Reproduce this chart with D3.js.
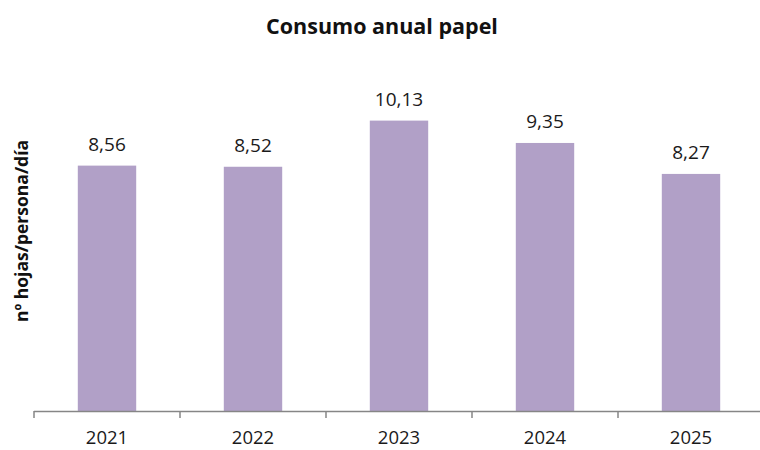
<!DOCTYPE html>
<html>
<head>
<meta charset="utf-8">
<script src="https://cdn.jsdelivr.net/npm/d3@7"></script>
<style>
    body { margin: 0; background: #fff; }
    svg { font-family: 'Open Sans', sans-serif; }
</style>
</head>
<body>
<div id="chart"></div>
<script>
const years = ['2021', '2022', '2023', '2024', '2025'];
const consumo = [8.56, 8.52, 10.13, 9.35, 8.27];
const labels = ['8,56', '8,52', '10,13', '9,35', '8,27'];

const width = 760;
const height = 450;
const margin = {top: 67, right: -4, bottom: 39, left: 34};

const svg = d3.select('#chart')
    .append('svg')
    .attr('width', width)
    .attr('height', height);

const x = d3.scaleBand()
    .domain(years)
    .range([margin.left, width - margin.right])
    .paddingInner(0.6)
    .paddingOuter(0.3);

const y = d3.scaleLinear()
    .domain([0, 12])
    .range([height - margin.bottom, margin.top]);

const data = years.map((d, i) => ({year: d, value: consumo[i], label: labels[i]}));

svg.append('text')
    .attr('x', 382)
    .attr('y', 34)
    .attr('text-anchor', 'middle')
    .style('font-size', '21.5px')
    .style('font-weight', 700)
    .style('fill', '#111')
    .text('Consumo anual papel');

svg.append('text')
    .attr('transform', 'translate(28,' + 231 + ') rotate(-90)')
    .attr('text-anchor', 'middle')
    .style('font-size', '17.5px')
    .style('font-weight', 700)
    .style('fill', '#111')
    .text('nº hojas/persona/día');

svg.selectAll('.bar')
    .data(data)
    .enter()
    .append('rect')
        .classed('bar', true)
        .attr('x', d => x(d.year))
        .attr('y', d => y(d.value))
        .attr('width', x.bandwidth())
        .attr('height', d => y(0) - y(d.value))
        .attr('fill', '#b1a0c7');

svg.selectAll('.label')
    .data(data)
    .enter()
    .append('text')
        .classed('label', true)
        .attr('x', d => x(d.year) + x.bandwidth() / 2)
        .attr('y', d => y(d.value) - 15)
        .attr('text-anchor', 'middle')
        .style('font-size', '19px')
        .style('fill', '#1a1a1a')
        .text(d => d.label);

// category axis: ticks sit between the bands
const step = x.step();
const base = y(0);
const axis = svg.append('g')
    .attr('stroke', '#868686')
    .attr('stroke-width', 1.5);

axis.append('line')
    .attr('x1', margin.left)
    .attr('x2', width)
    .attr('y1', base + 0.5)
    .attr('y2', base + 0.5);

axis.selectAll('.tick')
    .data(d3.range(years.length + 1))
    .enter()
    .append('line')
        .attr('x1', i => margin.left + i * step)
        .attr('x2', i => margin.left + i * step)
        .attr('y1', base)
        .attr('y2', base + 7);

svg.selectAll('.year')
    .data(data)
    .enter()
    .append('text')
        .classed('year', true)
        .attr('x', d => x(d.year) + x.bandwidth() / 2)
        .attr('y', base + 33)
        .attr('text-anchor', 'middle')
        .style('font-size', '18.5px')
        .style('fill', '#1a1a1a')
        .text(d => d.year);
</script>
</body>
</html>
